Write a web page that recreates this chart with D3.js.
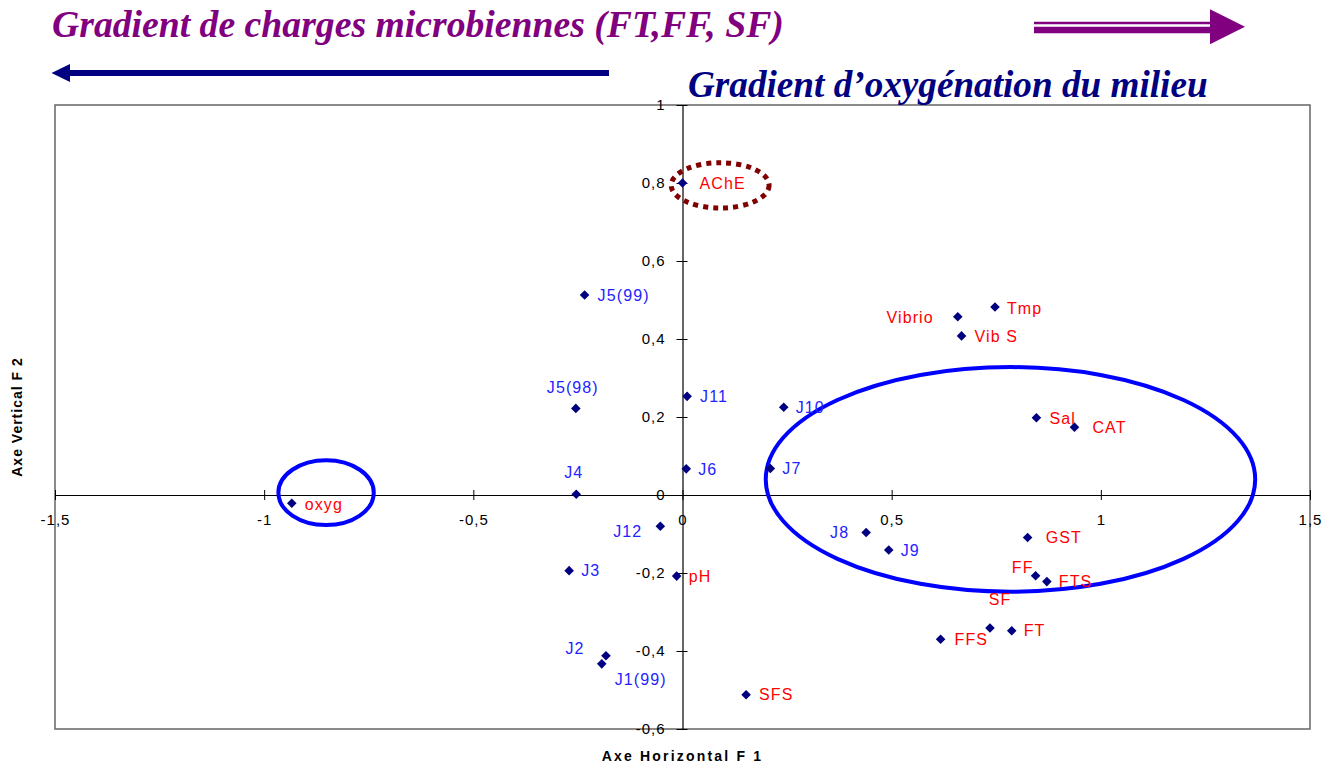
<!DOCTYPE html>
<html>
<head>
<meta charset="utf-8">
<script src="https://cdn.jsdelivr.net/npm/d3@7"></script>
<style>
  html, body { margin: 0; padding: 0; background: #fff; }
  svg { display: block; }
</style>
</head>
<body>
<svg id="chart" width="1332" height="764"></svg>
<script>
// ---------- DATA ----------
const pointNames = ["AChE","J5(99)","J5(98)","J11","J10","Vibrio","Tmp","Vib S","Sal","CAT",
  "J6","J7","J4","oxyg","J12","J8","J9","GST","FF","FTS","SF","FT","FFS","SFS","pH","J3","J2","J1(99)"];
const axisF1 = [0.000,-0.234,-0.255,0.011,0.242,0.658,0.747,0.667,0.846,0.937,
  0.009,0.210,-0.254,-0.934,-0.053,0.439,0.493,0.825,0.844,0.871,0.735,0.787,0.617,0.152,-0.014,-0.271,-0.183,-0.193];
const axisF2 = [0.800,0.513,0.222,0.253,0.225,0.457,0.482,0.408,0.198,0.174,
  0.067,0.068,0.002,-0.021,-0.080,-0.096,-0.141,-0.109,-0.207,-0.222,-0.341,-0.348,-0.370,-0.512,-0.208,-0.194,-0.412,-0.433];
// "var" = variable (red label), "site" = sampling day (blue label)
const pointKind = ["var","site","site","site","site","var","var","var","var","var",
  "site","site","site","var","site","site","site","var","var","var","var","var","var","var","var","site","site","site"];
const xTickValues = [-1.5,-1,-0.5,0,0.5,1,1.5];
const yTickValues = [-0.6,-0.4,-0.2,0,0.2,0.4,0.6,0.8,1];
const titleTop = "Gradient de charges microbiennes (FT,FF, SF)";
const titleOxy = "Gradient d\u2019oxygénation du milieu";
const xAxisTitle = "Axe Horizontal F 1";
const yAxisTitle = "Axe Vertical F 2";
// annotation ellipses (data units): centre F1, centre F2, radius F1, radius F2
const ellipseNames = ["oxyg","cluster","AChE"];
const ellipseCx = [-0.852, 0.784, 0.090];
const ellipseCy = [0.006, 0.040, 0.794];
const ellipseRx = [0.114, 0.585, 0.117];
const ellipseRy = [0.083, 0.288, 0.058];

// ---------- LAYOUT / STYLE ----------
const labelLayout = {
  "AChE":[17,0,"start"], "J5(99)":[13,0,"start"], "J5(98)":[-3,-21,"middle"], "J11":[13,0,"start"],
  "J10":[12,0,"start"], "Vibrio":[-24,0,"end"], "Tmp":[12,1,"start"], "Vib S":[13,0,"start"],
  "Sal":[13,0,"start"], "CAT":[18,0,"start"], "J6":[12,0,"start"], "J7":[12,0,"start"],
  "J4":[-2.5,-22,"middle"], "oxyg":[13,1,"start"], "J12":[-18,5,"end"], "J8":[-17,0,"end"],
  "J9":[12,0,"start"], "GST":[18,0,"start"], "FF":[-2,-8,"end"], "FTS":[12,0,"start"],
  "SF":[10,-29,"middle"], "FT":[12,0,"start"], "FFS":[14,0,"start"], "SFS":[13,0,"start"],
  "pH":[12,0,"start"], "J3":[12,0,"start"], "J2":[-31,-7,"middle"], "J1(99)":[13,15,"start"]
};
const plot = {left: 55, right: 1310, top: 105, bottom: 729};

const svg = d3.select("#chart");
const x = d3.scaleLinear().domain([-1.5, 1.5]).range([plot.left, plot.right]);
const y = d3.scaleLinear().domain([-0.6, 1]).range([plot.bottom, plot.top]);

const loc = d3.formatLocale({decimal: ",", thousands: " ", grouping: [3], currency: ["", ""], minus: "-"});
const fmt = loc.format(".1~f");

// plot area border
svg.append("rect")
  .attr("x", plot.left).attr("y", plot.top)
  .attr("width", plot.right - plot.left).attr("height", plot.bottom - plot.top)
  .attr("fill", "#fff").attr("stroke", "#6e6e6e").attr("stroke-width", 1.6);

// axes crossing at origin
const xAxis = svg.append("g")
  .attr("transform", `translate(0,${y(0)})`)
  .call(d3.axisBottom(x).tickValues(xTickValues).tickFormat(fmt).tickSizeOuter(0).tickSizeInner(5));
xAxis.select(".domain").attr("stroke", "#000").attr("stroke-width", 1.2);
xAxis.selectAll(".tick line").attr("y1", -5).attr("y2", 5).attr("stroke", "#000");
xAxis.selectAll(".tick text")
  .attr("y", 19).attr("dy", "0.71em")
  .attr("font-size", 15).attr("letter-spacing", 1).attr("fill", "#000");

const yAxis = svg.append("g")
  .attr("transform", `translate(${x(0)},0)`)
  .call(d3.axisLeft(y).tickValues(yTickValues).tickFormat(fmt).tickSizeOuter(0).tickSizeInner(6));
yAxis.select(".domain").attr("stroke", "#000").attr("stroke-width", 1.2);
yAxis.selectAll(".tick line").attr("x1", 5).attr("x2", -6).attr("stroke", "#000");
yAxis.selectAll(".tick text")
  .attr("x", -17)
  .attr("font-size", 15).attr("letter-spacing", 1).attr("fill", "#000");
svg.selectAll("g").attr("font-family", "Liberation Sans, Arial, sans-serif");

// points data
const pts = pointNames.map((n, i) => ({name: n, f1: axisF1[i], f2: axisF2[i], kind: pointKind[i]}));

// ellipses
const ells = ellipseNames.map((n, i) => ({name: n, cx: ellipseCx[i], cy: ellipseCy[i], rx: ellipseRx[i], ry: ellipseRy[i]}));
svg.append("g").selectAll("ellipse").data(ells).join("ellipse")
  .attr("cx", d => x(d.cx)).attr("cy", d => y(d.cy))
  .attr("rx", d => x(d.rx) - x(0)).attr("ry", d => y(0) - y(d.ry))
  .attr("fill", "none")
  .attr("stroke", d => d.name === "AChE" ? "#800000" : "#0000ff")
  .attr("stroke-width", d => d.name === "AChE" ? 5 : 4)
  .attr("stroke-dasharray", d => d.name === "AChE" ? "5,5" : null);

// markers
svg.append("g").selectAll("path").data(pts).join("path")
  .attr("d", d3.symbol(d3.symbolSquare).size(46))
  .attr("transform", d => `translate(${x(d.f1)},${y(d.f2)}) rotate(45)`)
  .attr("fill", "#000080");

// labels
svg.append("g").selectAll("text").data(pts).join("text")
  .attr("x", d => x(d.f1) + labelLayout[d.name][0])
  .attr("y", d => y(d.f2) + labelLayout[d.name][1])
  .attr("dy", "0.36em")
  .attr("text-anchor", d => labelLayout[d.name][2])
  .attr("font-family", "Liberation Sans, Arial, sans-serif")
  .attr("font-size", 16).attr("letter-spacing", 1.1)
  .attr("fill", d => d.kind === "var" ? "#ff0000" : "#2323ff")
  .text(d => d.name);

// axis titles
svg.append("text")
  .attr("x", (plot.left + plot.right) / 2).attr("y", 761)
  .attr("text-anchor", "middle")
  .attr("font-family", "Liberation Sans, Arial, sans-serif").attr("font-weight", "bold")
  .attr("font-size", 14).attr("letter-spacing", 2.2).attr("fill", "#000")
  .text(xAxisTitle);
svg.append("text")
  .attr("transform", `translate(22,${(plot.top + plot.bottom) / 2}) rotate(-90)`)
  .attr("text-anchor", "middle")
  .attr("font-family", "Liberation Sans, Arial, sans-serif").attr("font-weight", "bold")
  .attr("font-size", 14).attr("letter-spacing", 1).attr("fill", "#000")
  .text(yAxisTitle);

// titles
svg.append("text")
  .attr("x", 52).attr("y", 37)
  .attr("font-family", "Liberation Serif, 'Times New Roman', serif")
  .attr("font-weight", "bold").attr("font-style", "italic").attr("font-size", 37.7)
  .attr("fill", "#800080")
  .text(titleTop);
svg.append("text")
  .attr("x", 688).attr("y", 97)
  .attr("font-family", "Liberation Serif, 'Times New Roman', serif")
  .attr("font-weight", "bold").attr("font-style", "italic").attr("font-size", 37.2)
  .attr("fill", "#000080")
  .text(titleOxy);

// arrows
// navy arrow pointing left
svg.append("line").attr("x1", 609).attr("x2", 68).attr("y1", 73).attr("y2", 73)
  .attr("stroke", "#000080").attr("stroke-width", 6);
svg.append("path").attr("d", "M51.5,73 L70,64 L70,82 Z").attr("fill", "#000080");
// purple double arrow pointing right
svg.append("line").attr("x1", 1034).attr("x2", 1211).attr("y1", 23).attr("y2", 23)
  .attr("stroke", "#800080").attr("stroke-width", 2.6);
svg.append("line").attr("x1", 1034).attr("x2", 1211).attr("y1", 30).attr("y2", 30)
  .attr("stroke", "#800080").attr("stroke-width", 6.6);
svg.append("path").attr("d", "M1210,9.3 L1245,26.8 L1210,44.3 Z").attr("fill", "#800080");
</script>
</body>
</html>
